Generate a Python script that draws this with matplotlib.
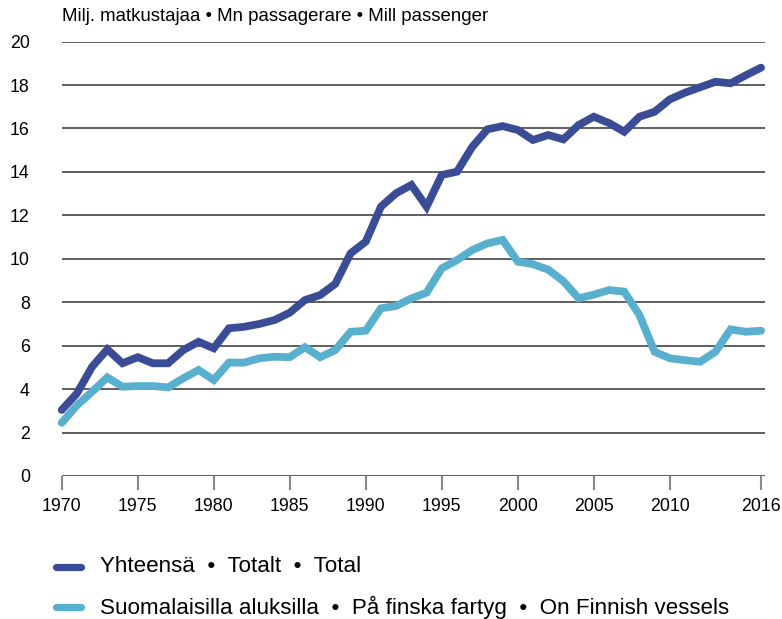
import matplotlib
matplotlib.use("Agg")
import matplotlib.pyplot as plt
from matplotlib.lines import Line2D

plt.rcParams['font.family'] = ['Liberation Sans', 'DejaVu Sans']

years = list(range(1970, 2017))
total = [3.04, 3.8, 5.03, 5.83, 5.19, 5.47, 5.19, 5.19, 5.8, 6.18, 5.88,
         6.8, 6.87, 7.0, 7.18, 7.52, 8.1, 8.33, 8.85, 10.25, 10.79,
         12.4, 13.02, 13.4, 12.4, 13.86, 14.01, 15.15, 15.96, 16.11, 15.93,
         15.47, 15.7, 15.5, 16.16, 16.54, 16.25, 15.85, 16.54, 16.77, 17.34,
         17.65, 17.9, 18.15, 18.08, 18.45, 18.8]
finnish = [2.45, 3.25, 3.88, 4.54, 4.11, 4.14, 4.14, 4.08, 4.5, 4.88, 4.42,
           5.22, 5.22, 5.42, 5.49, 5.47, 5.93, 5.47, 5.8, 6.64, 6.69,
           7.72, 7.83, 8.18, 8.44, 9.56, 9.94, 10.4, 10.71, 10.87, 9.87,
           9.75, 9.5, 8.97, 8.18, 8.35, 8.56, 8.49, 7.41, 5.72, 5.42,
           5.33, 5.26, 5.72, 6.75, 6.64, 6.69]
xticks = [1970, 1975, 1980, 1985, 1990, 1995, 2000, 2005, 2010, 2016]
yticks = [0, 2, 4, 6, 8, 10, 12, 14, 16, 18, 20]
title = "Milj. matkustajaa • Mn passagerare • Mill passenger"
labels = ["Yhteensä  •  Totalt  •  Total",
          "Suomalaisilla aluksilla  •  På finska fartyg  •  On Finnish vessels"]
colors = ["#3a4c96", "#58b0ce"]

W, H = 782, 619
x0, x1, y0, y1 = 61.7, 765, 41.6, 476
fig = plt.figure(figsize=(W/100, H/100), dpi=100)
ax = fig.add_axes([x0/W, 1-y1/H, (x1-x0)/W, (y1-y0)/H])

for y in yticks:
    ax.axhline(y, color="#333333", lw=1.1, zorder=1)

ax.plot(years, total, color=colors[0], lw=5.6, solid_capstyle='round',
        solid_joinstyle='miter', zorder=3, clip_on=False)
ax.plot(years, finnish, color=colors[1], lw=5.6, solid_capstyle='round',
        solid_joinstyle='miter', zorder=3, clip_on=False)

ax.set_xlim(1970, 2016.26)
ax.set_ylim(0, 20)
for s in ax.spines.values():
    s.set_visible(False)
ax.set_yticks(yticks)
ax.set_xticks(xticks)
ax.tick_params(axis='y', length=0, labelsize=12.8, pad=23)
ax.tick_params(axis='x', length=10, width=1.5, color="#8a8a8a",
               labelsize=12.8, pad=6, direction='out')

fig.text(x0/W, 1-16.5/H, title, fontsize=13.4, ha='left', va='center')

# legend
for i, (lab, c) in enumerate(zip(labels, colors)):
    yy = 1 - (567 + 40*i)/H
    fig.add_artist(Line2D([56.5/W, 80.5/W], [yy, yy], color=c, lw=5.2,
                          solid_capstyle='round', transform=fig.transFigure))
    fig.text(100/W, yy, lab, fontsize=16.1, ha='left', va='center')

fig.savefig("out.png", dpi=100)
